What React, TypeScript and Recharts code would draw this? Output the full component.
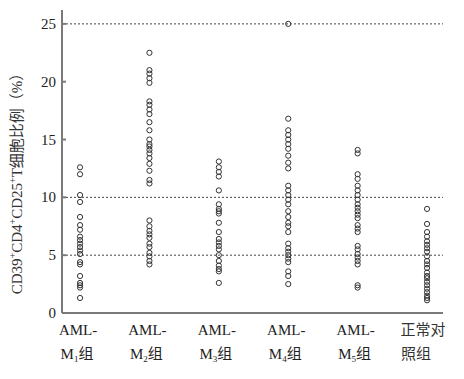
import { ScatterChart, Scatter, XAxis, YAxis, ReferenceLine } from 'recharts'

const categories = ['AML-M1组', 'AML-M2组', 'AML-M3组', 'AML-M4组', 'AML-M5组', '正常对照组']

const m1 = [12.6, 12.0, 10.2, 9.6, 8.3, 7.6, 7.2, 6.6, 6.3, 6.0, 5.7, 5.4, 5.1, 4.4, 4.2, 3.2, 2.6, 2.4, 2.2, 1.3]
const m2 = [22.5, 21.0, 20.7, 20.3, 19.9, 18.3, 18.0, 17.6, 17.2, 16.5, 15.8, 15.0, 14.6, 14.4, 14.1, 13.8, 13.4, 12.9, 12.3, 11.5, 11.2, 8.0, 7.5, 7.1, 6.8, 6.5, 6.0, 5.7, 5.2, 4.9, 4.5, 4.2]
const m3 = [13.1, 12.6, 12.2, 11.8, 10.6, 9.4, 9.0, 8.8, 8.6, 7.8, 7.0, 6.4, 6.1, 5.8, 5.5, 5.0, 4.5, 4.1, 3.8, 3.6, 2.6]
const m4 = [25.0, 16.8, 15.8, 15.4, 15.0, 14.6, 14.2, 13.6, 13.0, 12.5, 11.0, 10.6, 10.2, 9.8, 9.4, 8.8, 8.3, 7.8, 7.5, 7.0, 6.0, 5.6, 5.3, 5.0, 4.7, 4.4, 3.6, 3.2, 2.5]
const m5 = [14.1, 13.8, 12.0, 11.6, 11.0, 10.6, 10.2, 9.8, 9.4, 9.1, 8.8, 8.5, 8.2, 7.6, 7.3, 7.0, 5.8, 5.5, 5.1, 4.8, 4.5, 4.2, 2.4, 2.2]
const normal = [9.0, 7.7, 7.0, 6.6, 6.2, 5.9, 5.6, 5.3, 4.9, 4.5, 4.2, 3.9, 3.5, 3.2, 3.0, 2.7, 2.4, 2.1, 1.8, 1.5, 1.3, 1.1]

const yTicks = [0, 5, 10, 15, 20, 25]
const refLines = [5, 10, 25]

const groups = [m1, m2, m3, m4, m5, normal]
const points = groups.flatMap((vals, i) => vals.map((v) => ({ x: i + 1, y: v })))

const FONT = '"Liberation Serif", "Times New Roman", "DejaVu Serif", "Noto Sans CJK SC", serif'
const AXIS = '#7a7a7a'

function XTick({ x, y, payload }: any) {
  const i = payload.value - 1
  const name = categories[i]
  if (i === 5) {
    return (
      <text x={x} y={y} textAnchor="middle" style={{ fontFamily: FONT }} fontSize={15} fill="#333">
        <tspan x={x - 4} dy={14}>正常对</tspan>
        <tspan x={x - 11} dy={24}>照组</tspan>
      </text>
    )
  }
  const sub = name.charAt(5)
  return (
    <text x={x} y={y} textAnchor="middle" style={{ fontFamily: FONT }} fontSize={15} fill="#222">
      <tspan x={x - 2} dy={14}>AML-</tspan>
      <tspan x={x - 3} dy={24}>M</tspan>
      <tspan fontSize={9} dy={3}>{sub}</tspan>
      <tspan dy={-3}>组</tspan>
    </text>
  )
}

function YTick({ x, y, payload }: any) {
  return (
    <g>
      <line x1={x + 6} x2={x + 10} y1={y} y2={y} stroke={AXIS} strokeWidth={2} />
      <text x={x} y={y} dy={5} textAnchor="end" style={{ fontFamily: FONT }} fontSize={15} fill="#222">
        {payload.value}
      </text>
    </g>
  )
}

function Dot({ cx, cy }: any) {
  return <circle cx={cx} cy={cy} r={2.6} fill="none" stroke="#333" strokeWidth={1} />
}

export default function App() {
  return (
    <div style={{ position: 'absolute', left: 0, top: 0, background: '#fff' }}>
      <ScatterChart width={464} height={379} margin={{ top: 10, right: 21, bottom: 0, left: 0 }}>
        <XAxis
          type="number"
          dataKey="x"
          domain={[0.74, 6.23]}
          ticks={[1, 2, 3, 4, 5, 6]}
          tick={<XTick />}
          tickLine={false}
          axisLine={{ stroke: AXIS, strokeWidth: 2 }}
          height={66}
          allowDataOverflow
        />
        <YAxis
          type="number"
          dataKey="y"
          domain={[0, 26.2]}
          ticks={yTicks}
          tick={<YTick />}
          tickLine={false}
          tickSize={0}
          tickMargin={6}
          axisLine={{ stroke: AXIS, strokeWidth: 2 }}
          width={62}
          allowDataOverflow
        />
        {refLines.map((v) => (
          <ReferenceLine key={v} y={v} stroke="#444" strokeDasharray="2 2" strokeWidth={1} />
        ))}
        <Scatter data={points} shape={<Dot />} isAnimationActive={false} />
        <text
          transform="translate(22,180) rotate(-90)"
          textAnchor="middle"
          style={{ fontFamily: FONT }}
          fontSize={15}
          fill="#333"
        >
          CD39<tspan fontSize={10} dy={-6}>+</tspan>
          <tspan dy={6}>CD4</tspan>
          <tspan fontSize={10} dy={-6}>+</tspan>
          <tspan dy={6}>CD25</tspan>
          <tspan fontSize={10} dy={-6}>+</tspan>
          <tspan dy={6}>T细胞比例（%）</tspan>
        </text>
      </ScatterChart>
    </div>
  )
}
